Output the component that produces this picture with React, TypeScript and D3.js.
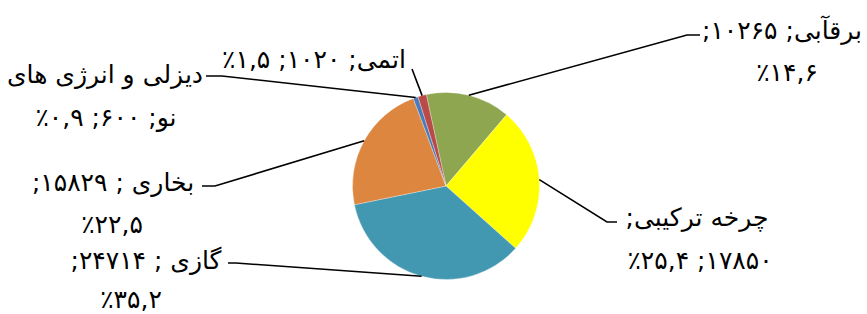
import * as d3 from "d3";

// Power plant capacity by type (MW) and their data labels
const categories = ["برقآبی", "چرخه ترکیبی", "گازی", "بخاری", "دیزلی و انرژی های نو", "اتمی"];
const values = [10265, 17850, 24714, 15829, 600, 1020];
const colors = ["#8DA64F", "#FFFF00", "#4398B1", "#DD8640", "#4B7BB8", "#B84A47"];
// percent parts are wrapped in LTR isolates so the ٪ sign sits left of the number
const labelLines = [
  ["برقآبی; ۱۰۲۶۵;", "\u2066٪۱۴,۶\u2069"],
  ["چرخه ترکیبی;", "۱۷۸۵۰; \u2066٪۲۵,۴\u2069"],
  ["گازی ; ۲۴۷۱۴;", "\u2066٪۳۵,۲\u2069"],
  ["بخاری ; ۱۵۸۲۹;", "\u2066٪۲۲,۵\u2069"],
  ["دیزلی و  انرژی های", "نو; ۶۰۰; \u2066٪۰,۹\u2069"],
  ["اتمی; ۱۰۲۰; \u2066٪۱,۵\u2069"],
];

// label placement (leader elbow, leader end, line centres, baselines)
const labelLayout = [
  { elbow: [687, 35], end: [700, 35], cx: [782, 787], by: [39, 81] },
  { elbow: [607, 222], end: [617, 222], cx: [697, 700], by: [226, 269] },
  { elbow: [236, 263], end: [228, 263], cx: [146, 131], by: [269, 308] },
  { elbow: [215, 186], end: [202, 186], cx: [113, 112], by: [191, 233] },
  { elbow: [222, 76], end: [206, 76], cx: [105, 106], by: [83, 126] },
  { elbow: [412, 69], end: [412, 69], cx: [314], by: [68] },
];

const width = 867;
const height = 314;
const cx = 446;
const cy = 186;
const radius = 93.5;
const startDeg = -12.18;

export default function App() {
  const start = (startDeg * Math.PI) / 180;
  const pie = d3
    .pie<number>()
    .sort(null)
    .startAngle(start)
    .endAngle(start + 2 * Math.PI)
    .value((d) => d);
  const arcs = pie(values);
  const arc = d3.arc<d3.PieArcDatum<number>>().innerRadius(0).outerRadius(radius);
  const line = d3.line();

  return (
    <>
      <style>{`body{margin:0}`}</style>
      <svg width={width} height={height} style={{ display: "block", background: "#fff" }}>
        <g transform={`translate(${cx},${cy})`}>
          {arcs.map((a, i) => (
            <path
              key={categories[i]}
              d={arc(a) ?? ""}
              fill={colors[i]}
              stroke="#ffffff"
              strokeOpacity={0.5}
              strokeWidth={0.6}
            />
          ))}
        </g>
        {arcs.map((a, i) => {
          const mid = (a.startAngle + a.endAngle) / 2;
          const p0: [number, number] = [cx + radius * Math.sin(mid), cy - radius * Math.cos(mid)];
          const L = labelLayout[i];
          return (
            <path
              key={"leader" + i}
              d={line([p0, L.elbow as [number, number], L.end as [number, number]]) ?? ""}
              fill="none"
              stroke="#000"
              strokeWidth={1.6}
            />
          );
        })}
        {labelLines.map((lines, i) =>
          lines.map((t, j) => (
            <text
              key={`lbl${i}-${j}`}
              x={labelLayout[i].cx[j]}
              y={labelLayout[i].by[j]}
              direction="rtl"
              textAnchor="middle"
              fontFamily="'DejaVu Sans'"
              fontSize={25}
              fill="#000"
            >
              {t}
            </text>
          ))
        )}
      </svg>
    </>
  );
}
